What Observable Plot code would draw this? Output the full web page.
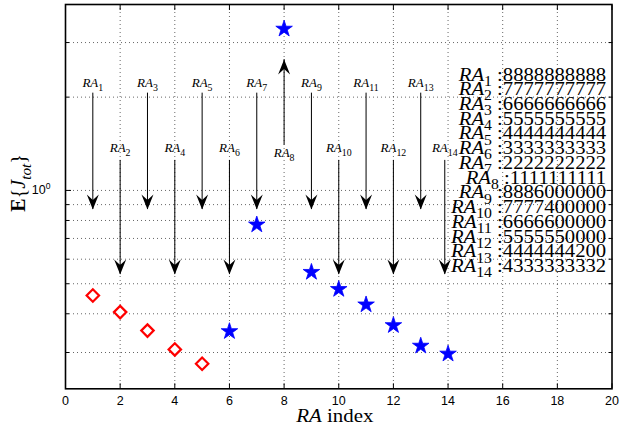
<!DOCTYPE html>
<html>
<head>
<meta charset="utf-8">
<script src="https://cdn.jsdelivr.net/npm/d3@7"></script>
<script src="https://cdn.jsdelivr.net/npm/@observablehq/plot@0.6"></script>
<style>
  html, body { margin: 0; padding: 0; background: #fff; }
  #chart { width: 620px; height: 431px; }
</style>
</head>
<body>
<div id="chart"></div>
<script>
// ---------- data ----------
const redIndex = [1, 2, 3, 4, 5];
const redValue = [0.458, 0.405, 0.353, 0.307, 0.276];
const blueIndex = [6, 7, 8, 9, 10, 11, 12, 13, 14];
const blueValue = [0.351, 0.775, 3.32, 0.545, 0.48, 0.428, 0.367, 0.315, 0.297];

const raIndex = [1, 2, 3, 4, 5, 6, 7, 8, 9, 10, 11, 12, 13, 14];
const raCodes = ["8888888888", "7777777777", "6666666666", "5555555555", "4444444444",
  "3333333333", "2222222222", "1111111111", "8886000000", "7777400000",
  "6666600000", "5555550000", "4444444200", "4333333332"];

// annotation arrows (x, tail value, tip value, label value)
const arrowX    = [1, 2, 3, 4, 5, 6, 7, 8, 9, 10, 11, 12, 13, 13.88];
const arrowFrom = [2.06, 1.25, 2.06, 1.25, 2.06, 1.25, 2.06, 1.40, 2.06, 1.25, 2.06, 1.25, 2.06, 1.25];
const arrowTo   = [0.868, 0.536, 0.868, 0.536, 0.868, 0.536, 0.868, 2.645, 0.868, 0.536, 0.868, 0.536, 0.868, 0.536];
const labelY    = [2.15, 1.326, 2.15, 1.326, 2.15, 1.326, 2.15, 1.278, 2.15, 1.326, 2.15, 1.326, 2.15, 1.326];

const xTicks = [0, 2, 4, 6, 8, 10, 12, 14, 16, 18, 20];
const xGrid = [2, 4, 6, 8, 10, 12, 14, 16, 18];
const yMinor = [0.3, 0.4, 0.5, 0.6, 0.7, 0.8, 0.9, 2, 3];
const yGrid = [0.3, 0.4, 0.5, 0.6, 0.7, 0.8, 0.9, 1, 2, 3];
const yMajor = [1];

// ---------- styles ----------
const serif = "'Liberation Serif', 'Times New Roman', serif";
const sans = "'Liberation Sans', Arial, Helvetica, sans-serif";
const legendFont = 18;
const legendLH = 14.75 / legendFont;

const red = redIndex.map((x, i) => ({x, y: redValue[i]}));
const blue = blueIndex.map((x, i) => ({x, y: blueValue[i]}));
const arrows = raIndex.map((k, i) => ({k, x: arrowX[i], from: arrowFrom[i], to: arrowTo[i], ly: labelY[i]}));
const legendText = raIndex.map((k, i) => `*RA*_[${k}] :${raCodes[i]}`).join("\n");

const headDown = {draw(c) { c.moveTo(0, 0); c.lineTo(-6, -15); c.lineTo(0, -9.5); c.lineTo(6, -15); c.closePath(); }};
const headUp = {draw(c) { c.moveTo(0, 0); c.lineTo(-6, 15); c.lineTo(0, 9.5); c.lineTo(6, 15); c.closePath(); }};

const gridStyle = {stroke: "#000", strokeOpacity: 0.6, strokeDasharray: "1,3", strokeWidth: 1};
const noText = () => "";

const chart = Plot.plot({
  width: 620, height: 431,
  marginLeft: 65, marginRight: 8.5, marginTop: 4, marginBottom: 42.7,
  style: {fontFamily: sans, fontSize: "12px", background: "white", color: "black", overflow: "visible"},
  x: {domain: [0, 20]},
  y: {type: "log", domain: [0.2291, 3.98]},
  marks: [
    Plot.gridX(xGrid, gridStyle),
    Plot.gridY(yGrid, gridStyle),
    Plot.axisX(xTicks, {anchor: "bottom", tickSize: -5, tickFormat: noText, label: null}),
    Plot.axisX(xTicks, {anchor: "top", tickSize: -5, tickFormat: noText, label: null}),
    Plot.axisX(xTicks, {anchor: "bottom", tickSize: 0, tickPadding: 7, label: null, fontSize: 12.5}),
    Plot.axisY(yMinor, {anchor: "left", tickSize: -4, tickFormat: noText, label: null}),
    Plot.axisY(yMinor, {anchor: "right", tickSize: -4, tickFormat: noText, label: null}),
    Plot.axisY(yMajor, {anchor: "left", tickSize: -6, tickFormat: noText, label: null}),
    Plot.axisY(yMajor, {anchor: "right", tickSize: -6, tickFormat: noText, label: null}),
    Plot.axisY(yMajor, {anchor: "left", tickSize: 0, tickPadding: 15, tickFormat: () => "10^[0]", label: null, fontSize: 12.5}),
    Plot.frame({stroke: "black", strokeWidth: 1.6}),
    Plot.ruleX(arrows, {x: "x", y1: "from", y2: "to", stroke: "black", strokeWidth: 1}),
    Plot.dot(arrows.filter(d => d.to < d.from), {x: "x", y: "to", symbol: headDown, fill: "black", stroke: null}),
    Plot.dot(arrows.filter(d => d.to > d.from), {x: "x", y: "to", symbol: headUp, fill: "black", stroke: null}),
    Plot.text(arrows, {x: "x", y: "ly", text: d => `*RA*_[${d.k}]`, fontFamily: serif, fontSize: 13,
      lineAnchor: "bottom", textAnchor: "middle"}),
    Plot.dot(red, {x: "x", y: "y", symbol: "diamond2", r: 5.6, stroke: "#ff0000", strokeWidth: 2.2, fill: "white"}),
    Plot.dot(blue, {x: "x", y: "y", symbol: "star", r: 5.2, fill: "#0000ff", stroke: "#0000ff", strokeWidth: 0.8}),
    Plot.text([legendText], {frameAnchor: "top-right", dx: -5.8, dy: 76 - 0.71 * legendLH * legendFont,
      textAnchor: "end", lineAnchor: "top", lineHeight: legendLH, fontSize: legendFont, fontFamily: serif}),
    Plot.text(["*RA* index"], {frameAnchor: "bottom", dx: -4, dy: 33, lineAnchor: "bottom",
      fontSize: 19, fontFamily: serif}),
    Plot.text(["#E#{*J*_<tot>}"], {frameAnchor: "left", dx: -47, dy: 15, rotate: -90, lineAnchor: "middle",
      fontSize: 20, fontFamily: serif})
  ]
});
document.getElementById("chart").appendChild(chart);

// ---------- rich text (italic / subscript / superscript / bold) ----------
const NS = "http://www.w3.org/2000/svg";
const MARK = /[*#_^]/;
function rich(el, fs) {
  const src = el.textContent;
  if (!MARK.test(src)) return;
  el.textContent = "";
  const re = /\*([^*]+)\*|_\[([^\]]+)\]|_<([^>]+)>|\^\[([^\]]+)\]|#([^#]+)#|([^*_#^]+)/g;
  let m, shift = 0;
  const sub = fs * 0.28, sup = -fs * 0.42, small = fs * 0.76;
  while ((m = re.exec(src))) {
    const t = document.createElementNS(NS, "tspan");
    let s = 0;
    if (m[1]) { t.textContent = m[1]; t.setAttribute("font-style", "italic"); }
    else if (m[2] || m[3]) {
      t.textContent = m[2] || m[3]; t.setAttribute("font-size", small); s = sub;
      if (m[3]) t.setAttribute("font-style", "italic");
    }
    else if (m[4]) { t.textContent = m[4]; t.setAttribute("font-size", small * 0.9); s = sup; }
    else if (m[5]) { t.textContent = m[5]; t.setAttribute("font-weight", "bold"); }
    else { t.textContent = m[6]; }
    if (s - shift) t.setAttribute("dy", s - shift);
    shift = s;
    el.appendChild(t);
  }
}
chart.querySelectorAll("text").forEach(el => {
  if (!el.textContent) { el.remove(); return; }
  const fs = parseFloat(getComputedStyle(el).fontSize) || 12;
  const lines = Array.from(el.children).filter(c => c.tagName.toLowerCase() === "tspan");
  if (lines.length > 1) {
    lines.forEach(l => rich(l, fs));
    el.setAttribute("transform", (el.getAttribute("transform") || "") + " scale(1.15,1)");
  } else if (MARK.test(el.textContent)) {
    const isX = el.textContent.includes("index");
    rich(el, fs);
    if (isX) el.setAttribute("transform", (el.getAttribute("transform") || "") + " scale(1.1,1)");
  }
});
</script>
</body>
</html>
